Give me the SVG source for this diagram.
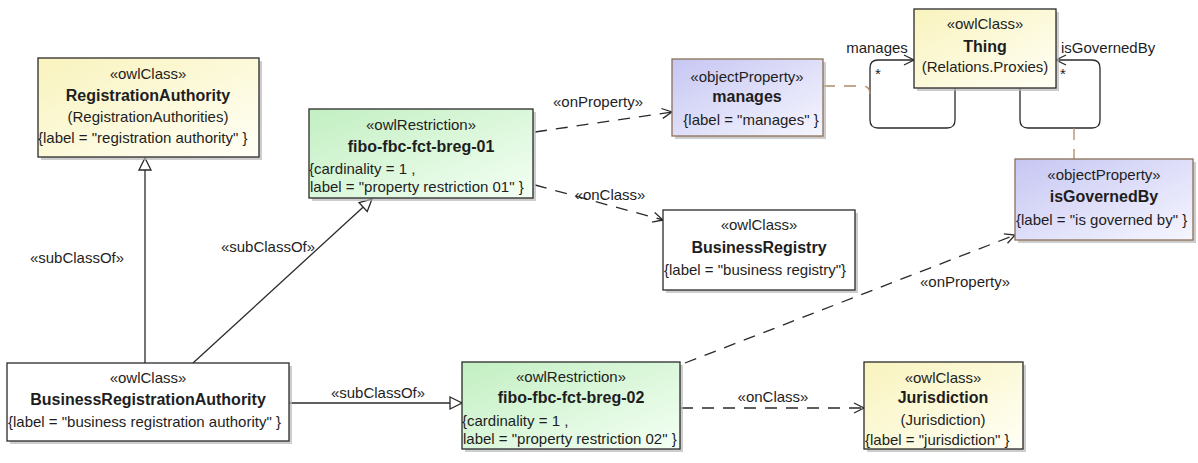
<svg xmlns="http://www.w3.org/2000/svg" width="1198" height="463" viewBox="0 0 1198 463">
<style>
text{font-family:"Liberation Sans",Arial,sans-serif;fill:#1e1e1e}
.st{font-size:15px;text-anchor:middle}
.nm{font-size:16px;font-weight:bold;text-anchor:middle}
.lb{font-size:15px;text-anchor:start}
.cl{font-size:15px;text-anchor:middle}
.box{stroke:#2a2a2a;stroke-width:1.3}
.pbox{stroke:#8a7058;stroke-width:1.3}
.sh{fill:#b8b8b8;opacity:0.7}
.ln{fill:none;stroke:#2a2a2a;stroke-width:1.3}
.dash{stroke-dasharray:12,9}
.ac{fill:none;stroke:#b08a64;stroke-width:1.3;stroke-dasharray:12,9}
</style>
<defs>
<linearGradient id="gy" x1="0" y1="0" x2="1" y2="1"><stop offset="0" stop-color="#f9f3bd"/><stop offset="1" stop-color="#fffff6"/></linearGradient>
<linearGradient id="gg" x1="0" y1="0" x2="1" y2="1"><stop offset="0" stop-color="#c2efc2"/><stop offset="1" stop-color="#f4fff4"/></linearGradient>
<linearGradient id="gp" x1="0" y1="0" x2="1" y2="1"><stop offset="0" stop-color="#c6c6f3"/><stop offset="1" stop-color="#f6f6ff"/></linearGradient>
<marker id="open" markerUnits="userSpaceOnUse" markerWidth="14" markerHeight="14" refX="11" refY="6" orient="auto"><path d="M1,1 L11,6 L1,11" fill="none" stroke="#2a2a2a" stroke-width="1.3"/></marker>
<marker id="tri" markerUnits="userSpaceOnUse" markerWidth="16" markerHeight="16" refX="13" refY="7" orient="auto"><path d="M1,1 L13,7 L1,13 Z" fill="#fff" stroke="#2a2a2a" stroke-width="1.3"/></marker>
</defs>
<rect width="1198" height="463" fill="#fff"/>

<g id="connectors">
<path class="ln" d="M145,363 V158" marker-end="url(#tri)"/>
<text class="cl" x="77" y="263">«subClassOf»</text>
<path class="ln" d="M193,363 L372,199" marker-end="url(#tri)"/>
<text class="cl" x="268" y="252">«subClassOf»</text>
<path class="ln" d="M289,403 H462" marker-end="url(#tri)"/>
<text class="cl" x="378" y="398">«subClassOf»</text>
<path class="ln dash" d="M535,132 L672,112" marker-end="url(#open)"/>
<text class="cl" x="598" y="107">«onProperty»</text>
<path class="ln dash" d="M535,185 L663,220" marker-end="url(#open)"/>
<text class="cl" x="610" y="200">«onClass»</text>
<path class="ln dash" d="M685,363 L1015,235" marker-end="url(#open)"/>
<text class="cl" x="965" y="287">«onProperty»</text>
<path class="ln dash" d="M681,408 H864" marker-end="url(#open)"/>
<text class="cl" x="773" y="402">«onClass»</text>
<path class="ln" d="M955,88 V120 Q955,128 947,128 H878 Q870,128 870,120 V68 Q870,60 878,60 H914" marker-end="url(#open)"/>
<text class="cl" x="877" y="53">manages</text>
<text class="cl" x="878" y="79">*</text>
<path class="ln" d="M1020,88 V120 Q1020,128 1028,128 H1092 Q1100,128 1100,120 V68 Q1100,60 1092,60 H1056" marker-end="url(#open)"/>
<text class="lb" x="1061" y="53">isGovernedBy</text>
<text class="cl" x="1063" y="79">*</text>
<path class="ac" d="M823,86 H862 Q870,86 870,94"/>
<path class="ac" d="M1074,128 V159"/>
</g>

<g id="RegistrationAuthority">
<rect class="sh" x="41" y="61" width="221" height="99"/>
<rect class="box" x="38" y="58" width="221" height="99" fill="url(#gy)"/>
<text class="st" x="148" y="79">«owlClass»</text>
<text class="nm" x="148" y="101">RegistrationAuthority</text>
<text class="st" x="148" y="122">(RegistrationAuthorities)</text>
<text class="lb" x="38" y="143">{label = "registration authority" }</text>
</g>

<g id="fibo-fbc-fct-breg-01">
<rect class="sh" x="312" y="112" width="224" height="89"/>
<rect class="box" x="309" y="109" width="224" height="89" fill="url(#gg)"/>
<text class="st" x="421" y="130">«owlRestriction»</text>
<text class="nm" x="421" y="152">fibo-fbc-fct-breg-01</text>
<text class="lb" x="309" y="174">{cardinality = 1 ,</text>
<text class="lb" x="310" y="192">label = "property restriction 01" }</text>
</g>

<g id="manages">
<rect class="sh" x="675" y="62" width="151" height="77"/>
<rect class="pbox" x="672" y="59" width="151" height="77" fill="url(#gp)"/>
<text class="st" x="747" y="82">«objectProperty»</text>
<text class="nm" x="747" y="102">manages</text>
<text class="st" x="751" y="125">{label = "manages" }</text>
</g>

<g id="Thing">
<rect class="sh" x="917" y="12" width="142" height="79"/>
<rect class="box" x="914" y="9" width="142" height="79" fill="url(#gy)"/>
<text class="st" x="985" y="29">«owlClass»</text>
<text class="nm" x="985" y="52">Thing</text>
<text class="st" x="985" y="72">(Relations.Proxies)</text>
</g>

<g id="isGovernedBy">
<rect class="sh" x="1018" y="162" width="178" height="81"/>
<rect class="pbox" x="1015" y="159" width="178" height="81" fill="url(#gp)"/>
<text class="st" x="1104" y="180">«objectProperty»</text>
<text class="nm" x="1104" y="202">isGovernedBy</text>
<text class="lb" x="1016" y="225">{label = "is governed by" }</text>
</g>

<g id="BusinessRegistry">
<rect class="sh" x="666" y="213" width="192" height="80"/>
<rect class="box" x="663" y="210" width="192" height="80" fill="#fff"/>
<text class="st" x="759" y="230">«owlClass»</text>
<text class="nm" x="759" y="253">BusinessRegistry</text>
<text class="lb" x="664" y="275">{label = "business registry"}</text>
</g>

<g id="BusinessRegistrationAuthority">
<rect class="sh" x="10" y="366" width="282" height="78"/>
<rect class="box" x="7" y="363" width="282" height="78" fill="#fff"/>
<text class="st" x="148" y="383">«owlClass»</text>
<text class="nm" x="148" y="405">BusinessRegistrationAuthority</text>
<text class="lb" x="8" y="427">{label = "business registration authority" }</text>
</g>

<g id="fibo-fbc-fct-breg-02">
<rect class="sh" x="465" y="365" width="218" height="87"/>
<rect class="box" x="462" y="362" width="218" height="87" fill="url(#gg)"/>
<text class="st" x="571" y="382">«owlRestriction»</text>
<text class="nm" x="571" y="403">fibo-fbc-fct-breg-02</text>
<text class="lb" x="462" y="426">{cardinality = 1 ,</text>
<text class="lb" x="463" y="444">label = "property restriction 02" }</text>
</g>

<g id="Jurisdiction">
<rect class="sh" x="867" y="365" width="159" height="87"/>
<rect class="box" x="864" y="362" width="159" height="87" fill="url(#gy)"/>
<text class="st" x="943" y="383">«owlClass»</text>
<text class="nm" x="943" y="403">Jurisdiction</text>
<text class="st" x="943" y="425">(Jurisdiction)</text>
<text class="lb" x="865" y="445">{label = "jurisdiction" }</text>
</g>
</svg>
